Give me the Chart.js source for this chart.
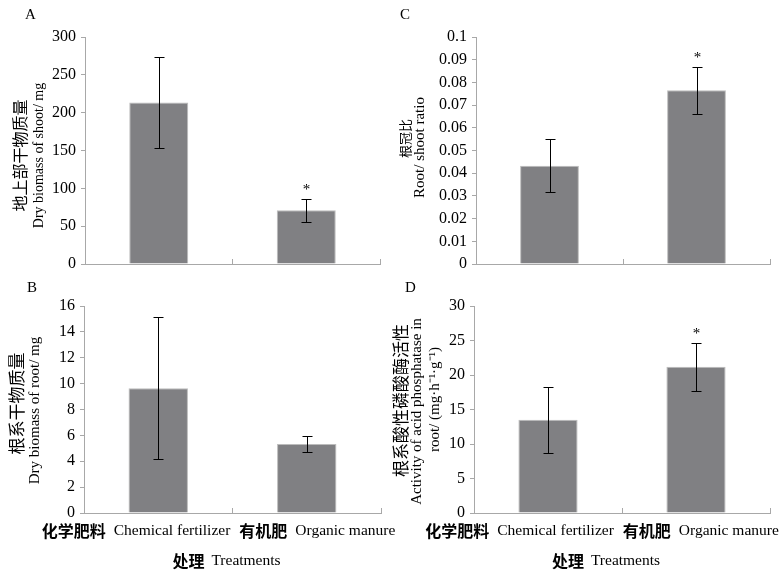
<!DOCTYPE html>
<html>
<head>
<meta charset="utf-8">
<title>Fertilizer treatments</title>
<script src="https://cdn.jsdelivr.net/npm/chart.js@4.4.1/dist/chart.umd.min.js"></script>
<style>
    html, body { margin: 0; padding: 0; background: #ffffff; }
    #wrap { position: relative; width: 779px; height: 572px; overflow: hidden; }
    canvas { position: absolute; }
</style>
</head>
<body>
<div id="wrap">
    <canvas id="chartA" width="390" height="280" style="left:0;top:0"></canvas>
    <canvas id="chartC" width="389" height="280" style="left:390px;top:0"></canvas>
    <canvas id="chartB" width="410" height="292" style="left:0;top:280px"></canvas>
    <canvas id="chartD" width="389" height="292" style="left:390px;top:280px"></canvas>
</div>
<script>
// Categories (treatments)
const categories = ['Chemical fertilizer', 'Organic manure'];
const categoriesZh = ['化学肥料', '有机肥'];

// A - shoot dry biomass (mg)
const shootMean = [213.5, 71];
const shootErr = [60, 15];
const shootSig = ['', '*'];
const shootAxis = [0, 300, 50];

// C - root / shoot ratio
const ratioMean = [0.0433, 0.0765];
const ratioErr = [0.0117, 0.0103];
const ratioSig = ['', '*'];
const ratioAxis = [0, 0.1, 0.01];

// B - root dry biomass (mg)
const rootMean = [9.65, 5.33];
const rootErr = [5.5, 0.6];
const rootSig = ['', ''];
const rootAxis = [0, 16, 2];

// D - acid phosphatase activity in root
const acpMean = [13.5, 21.2];
const acpErr = [4.8, 3.45];
const acpSig = ['', '*'];
const acpAxis = [0, 30, 5];

const axisColor = '#a8a8a8';
const barColor = '#808083';
const serif = '"Liberation Serif", "Times New Roman", serif';
const cjk = '"Noto Sans CJK SC", sans-serif';

// Error bars + significance asterisks
const errorBarPlugin = {
    id: 'errorBars',
    afterDatasetsDraw(chart, args, opts) {
        const ctx = chart.ctx;
        const meta = chart.getDatasetMeta(0);
        const yScale = chart.scales.y;
        const values = chart.data.datasets[0].data;
        ctx.save();
        ctx.strokeStyle = '#000';
        ctx.lineWidth = 1;
        meta.data.forEach((bar, i) => {
            const x = Math.round(bar.x) + 0.5;
            const top = Math.round(yScale.getPixelForValue(values[i] + opts.err[i])) + 0.5;
            const bottom = Math.round(yScale.getPixelForValue(values[i] - opts.err[i])) + 0.5;
            ctx.beginPath();
            ctx.moveTo(x, top); ctx.lineTo(x, bottom);
            ctx.moveTo(x - 5, top); ctx.lineTo(x + 5, top);
            ctx.moveTo(x - 5, bottom); ctx.lineTo(x + 5, bottom);
            ctx.stroke();
            if (opts.sig[i]) {
                ctx.fillStyle = '#000';
                ctx.font = '15px ' + serif;
                ctx.textAlign = 'center';
                ctx.textBaseline = 'alphabetic';
                ctx.fillText(opts.sig[i], x, top - 6);
            }
        });
        ctx.restore();
    }
};

// Panel letter, rotated y titles and the mixed-font category / treatment rows
const panelTextPlugin = {
    id: 'panelText',
    afterDraw(chart, args, opts) {
        const ctx = chart.ctx;
        const area = chart.chartArea;
        const midY = (area.top + area.bottom) / 2;
        ctx.save();
        ctx.fillStyle = '#000';
        ctx.textBaseline = 'middle';
        ctx.textAlign = 'left';
        ctx.font = '15px ' + serif;
        ctx.fillText(opts.letter, opts.letterX, opts.letterY);

        // y axis title, one line per language
        opts.yTitle.forEach(line => {
            ctx.save();
            ctx.translate(line.x, midY + line.dy);
            ctx.rotate(-Math.PI / 2);
            ctx.textAlign = 'center';
            ctx.font = line.f;
            ctx.fillText(line.t, 0, 0);
            ctx.restore();
        });

        if (opts.showX) {
            const mid = (area.left + area.right) / 2;
            const row = [];
            categories.forEach((c, i) => {
                row.push({ t: categoriesZh[i], f: 'bold 16px ' + cjk, gap: 8 });
                row.push({ t: c, f: '15.5px ' + serif, gap: 9 });
            });
            drawRow(ctx, row, mid + opts.rowDx, area.bottom + 18);
            drawRow(ctx, [
                { t: '处理', f: 'bold 16px ' + cjk, gap: 7 },
                { t: 'Treatments', f: '15.5px ' + serif, gap: 0 }
            ], mid + opts.titleDx, area.bottom + 48);
        }
        ctx.restore();
    }
};

function drawRow(ctx, row, cx, y) {
    let total = 0;
    row.forEach((s, i) => {
        ctx.font = s.f;
        s.w = ctx.measureText(s.t).width;
        total += s.w + (i < row.length - 1 ? s.gap : 0);
    });
    let x = cx - total / 2;
    row.forEach(s => {
        ctx.font = s.f;
        ctx.fillText(s.t, x, y);
        x += s.w + s.gap;
    });
}

function makePanel(id, cfg) {
    const el = document.getElementById(id);
    return new Chart(el, {
        type: 'bar',
        data: {
            labels: categories,
            datasets: [{
                data: cfg.values,
                backgroundColor: barColor,
                borderColor: '#bcbcbc',
                borderWidth: 1,
                barPercentage: 0.4,
                categoryPercentage: 1.0
            }]
        },
        options: {
            responsive: false,
            animation: false,
            events: [],
            layout: { padding: { top: cfg.top, right: cfg.right, left: 0, bottom: 0 } },
            plugins: {
                legend: { display: false },
                tooltip: { enabled: false },
                errorBars: { err: cfg.err, sig: cfg.sig },
                panelText: {
                    letter: cfg.letter, letterX: cfg.letterX, letterY: cfg.letterY,
                    yTitle: cfg.yTitle, showX: cfg.showX,
                    rowDx: cfg.rowDx || 0, titleDx: cfg.titleDx || 0
                }
            },
            scales: {
                x: {
                    offset: true,
                    border: { display: true, color: axisColor, width: 1 },
                    grid: { offset: true, drawOnChartArea: false, drawTicks: true, tickLength: -5, color: axisColor },
                    ticks: { display: false },
                    afterFit(scale) {
                        scale.height = cfg.xHeight;
                        scale.paddingLeft = 0;
                        scale.paddingRight = 0;
                    }
                },
                y: {
                    min: cfg.axis[0],
                    max: cfg.axis[1],
                    border: { display: true, color: axisColor, width: 1 },
                    grid: { drawOnChartArea: false, drawTicks: true, tickLength: 4, color: axisColor },
                    ticks: {
                        stepSize: cfg.axis[2],
                        color: '#000',
                        padding: 5,
                        font: { family: serif, size: 16 },
                        callback: v => String(Math.round(v * 1000) / 1000)
                    },
                    afterFit(scale) {
                        scale.width = cfg.left;
                        scale.paddingTop = 0;
                        scale.paddingBottom = 0;
                    }
                }
            }
        },
        plugins: [errorBarPlugin, panelTextPlugin]
    });
}

document.addEventListener('DOMContentLoaded', () => {
    Chart.defaults.font.family = serif;

    // A - shoot biomass
    makePanel('chartA', {
        values: shootMean, err: shootErr, sig: shootSig, axis: shootAxis,
        yTitle: [
            { t: '地上部干物质量', f: '16px ' + cjk, x: 20, dy: 5 },
            { t: 'Dry biomass of shoot/ mg', f: '14px ' + serif, x: 39, dy: 5 }
        ],
        left: 85, top: 37, right: 10, xHeight: 16,
        letter: 'A', letterX: 25, letterY: 15, showX: false
    });

    // C - root/shoot ratio
    makePanel('chartC', {
        values: ratioMean, err: ratioErr, sig: ratioSig, axis: ratioAxis,
        yTitle: [
            { t: '根冠比', f: '13px ' + cjk, x: 15, dy: -12 },
            { t: 'Root/ shoot ratio', f: '15px ' + serif, x: 30, dy: -3 }
        ],
        left: 86, top: 37, right: 9, xHeight: 16,
        letter: 'C', letterX: 10, letterY: 15, showX: false
    });

    // B - root biomass
    makePanel('chartB', {
        values: rootMean, err: rootErr, sig: rootSig, axis: rootAxis,
        yTitle: [
            { t: '根系干物质量', f: '17px ' + cjk, x: 17, dy: -6 },
            { t: 'Dry biomass of root/ mg', f: '15px ' + serif, x: 35, dy: 1 }
        ],
        left: 84, top: 26, right: 29, xHeight: 59,
        letter: 'B', letterX: 27, letterY: 8, showX: true, rowDx: -14, titleDx: -6
    });

    // D - acid phosphatase activity
    makePanel('chartD', {
        values: acpMean, err: acpErr, sig: acpSig, axis: acpAxis,
        yTitle: [
            { t: '根系酸性磷酸酶活性', f: '17px ' + cjk, x: 11, dy: -9 },
            { t: 'Activity of acid phosphatase in', f: '15px ' + serif, x: 27, dy: 2 },
            { t: 'root/ (mg·h⁻¹·g⁻¹)', f: '15px ' + serif, x: 45, dy: -10 }
        ],
        left: 84, top: 26, right: 9, xHeight: 59,
        letter: 'D', letterX: 15, letterY: 8, showX: true, rowDx: -20, titleDx: -16
    });
});
</script>
</body>
</html>
